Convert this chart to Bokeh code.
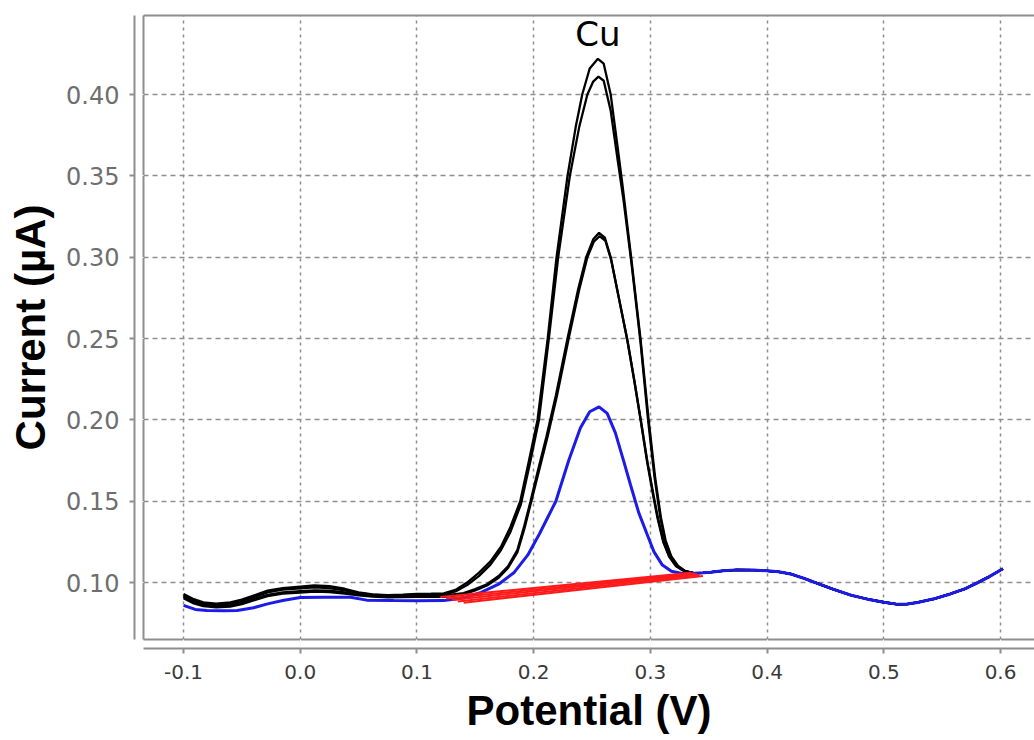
import numpy as np
from bokeh.plotting import figure
from bokeh.models import Range1d, LinearAxis, FixedTicker, PrintfTickFormatter, Label
from bokeh.embed import file_html
from bokeh.resources import INLINE

# ---------------- data ----------------
x_ticks = [-0.1, 0.0, 0.1, 0.2, 0.3, 0.4, 0.5, 0.6]
y_ticks = [0.10, 0.15, 0.20, 0.25, 0.30, 0.35, 0.40]

# common tail after the Cu peak (all scans overlap there)
tail_x = [0.345, 0.352, 0.362, 0.374, 0.388, 0.400, 0.410, 0.420, 0.432, 0.443,
          0.457, 0.472, 0.486, 0.500, 0.512, 0.520, 0.529, 0.543, 0.557, 0.570,
          0.580, 0.590, 0.602]
tail_y = [0.1060, 0.1064, 0.1072, 0.1078, 0.1077, 0.1072, 0.1066, 0.1053, 0.1025, 0.0995,
          0.0958, 0.0922, 0.0898, 0.0879, 0.0866, 0.0868, 0.0878, 0.0900, 0.0930, 0.0963,
          0.0998, 0.1035, 0.1085]

# scan A (highest peak)
a_x = [-0.100, -0.092, -0.083, -0.072, -0.060, -0.050, -0.040, -0.028, -0.015, 0.000,
       0.012, 0.025, 0.038, 0.050, 0.062, 0.075, 0.088, 0.100, 0.112, 0.123,
       0.133, 0.143, 0.153, 0.163, 0.172, 0.180, 0.1885, 0.196, 0.2033, 0.212,
       0.2196, 0.229, 0.236, 0.2416, 0.248, 0.255, 0.260, 0.266, 0.2715, 0.276,
       0.2835, 0.2915, 0.2985, 0.304, 0.309, 0.313, 0.318, 0.324, 0.330, 0.337]
a_y = [0.0930, 0.0900, 0.0878, 0.0870, 0.0878, 0.0895, 0.0920, 0.0950, 0.0966, 0.0975,
       0.0982, 0.0978, 0.0962, 0.0940, 0.0928, 0.0922, 0.0925, 0.0930, 0.0932, 0.0934,
       0.0955, 0.1000, 0.1060, 0.1130, 0.1220, 0.1340, 0.1500, 0.1750, 0.2000, 0.2500,
       0.3000, 0.3500, 0.3800, 0.4000, 0.4160, 0.4220, 0.4190, 0.4000, 0.3700, 0.3450,
       0.3000, 0.2500, 0.2000, 0.1650, 0.1400, 0.1260, 0.1160, 0.1100, 0.1070, 0.1058]

# scan B
b_x = [-0.100, -0.092, -0.083, -0.072, -0.060, -0.050, -0.040, -0.028, -0.015, 0.000,
       0.012, 0.025, 0.038, 0.050, 0.062, 0.075, 0.088, 0.100, 0.112, 0.123,
       0.133, 0.143, 0.153, 0.163, 0.172, 0.180, 0.189, 0.197, 0.2045, 0.213,
       0.221, 0.231, 0.239, 0.246, 0.251, 0.2555, 0.260, 0.266, 0.2715, 0.277,
       0.284, 0.2915, 0.298, 0.3035, 0.3085, 0.3125, 0.3175, 0.3235, 0.330, 0.337]
b_y = [0.0920, 0.0890, 0.0870, 0.0862, 0.0870, 0.0886, 0.0910, 0.0940, 0.0956, 0.0965,
       0.0970, 0.0966, 0.0952, 0.0935, 0.0925, 0.0920, 0.0922, 0.0926, 0.0928, 0.0925,
       0.0945, 0.0985, 0.1040, 0.1110, 0.1200, 0.1310, 0.1480, 0.1740, 0.2000, 0.2500,
       0.3000, 0.3500, 0.3800, 0.4000, 0.4080, 0.4110, 0.4085, 0.3900, 0.3620, 0.3350,
       0.2950, 0.2480, 0.2000, 0.1650, 0.1400, 0.1260, 0.1160, 0.1100, 0.1070, 0.1058]

# scan C
c_x = [-0.100, -0.092, -0.083, -0.072, -0.060, -0.050, -0.040, -0.028, -0.015, 0.000,
       0.012, 0.025, 0.038, 0.050, 0.062, 0.075, 0.088, 0.100, 0.112, 0.123,
       0.140, 0.150, 0.160, 0.170, 0.178, 0.186, 0.192, 0.1973, 0.204, 0.211,
       0.219, 0.229, 0.238, 0.245, 0.251, 0.256, 0.261, 0.266, 0.273, 0.280,
       0.286, 0.2916, 0.297, 0.302, 0.306, 0.311, 0.316, 0.322, 0.329, 0.337]
c_y = [0.0912, 0.0882, 0.0862, 0.0855, 0.0860, 0.0875, 0.0898, 0.0925, 0.0940, 0.0947,
       0.0952, 0.0950, 0.0940, 0.0928, 0.0920, 0.0916, 0.0917, 0.0919, 0.0920, 0.0920,
       0.0935, 0.0960, 0.0990, 0.1040, 0.1100, 0.1200, 0.1350, 0.1500, 0.1700, 0.1900,
       0.2150, 0.2500, 0.2800, 0.3000, 0.3110, 0.3150, 0.3120, 0.3000, 0.2750, 0.2500,
       0.2250, 0.2000, 0.1750, 0.1550, 0.1400, 0.1250, 0.1160, 0.1100, 0.1070, 0.1058]

# scan D
d_x = [-0.100, -0.092, -0.083, -0.072, -0.060, -0.050, -0.040, -0.028, -0.015, 0.000,
       0.012, 0.025, 0.038, 0.050, 0.062, 0.075, 0.088, 0.100, 0.112, 0.123,
       0.140, 0.150, 0.160, 0.170, 0.178, 0.186, 0.192, 0.198, 0.205, 0.212,
       0.220, 0.230, 0.239, 0.246, 0.2515, 0.2565, 0.2615, 0.2665, 0.2735, 0.2805,
       0.2865, 0.292, 0.2975, 0.3025, 0.3065, 0.3115, 0.3165, 0.3225, 0.3295, 0.337]
d_y = [0.0904, 0.0874, 0.0855, 0.0848, 0.0852, 0.0867, 0.0890, 0.0917, 0.0932, 0.0939,
       0.0944, 0.0942, 0.0932, 0.0921, 0.0913, 0.0909, 0.0910, 0.0912, 0.0913, 0.0912,
       0.0928, 0.0952, 0.0982, 0.1030, 0.1090, 0.1185, 0.1330, 0.1500, 0.1700, 0.1900,
       0.2150, 0.2500, 0.2800, 0.3000, 0.3095, 0.3130, 0.3100, 0.2980, 0.2730, 0.2480,
       0.2230, 0.1990, 0.1740, 0.1545, 0.1395, 0.1245, 0.1158, 0.1100, 0.1070, 0.1058]

# blue scan (lowest peak)
e_x = [-0.100, -0.090, -0.080, -0.065, -0.054, -0.040, -0.028, -0.015, 0.000, 0.020,
       0.043, 0.057, 0.080, 0.100, 0.123, 0.140, 0.155, 0.170, 0.183, 0.195,
       0.205, 0.212, 0.219, 0.230, 0.240, 0.248, 0.256, 0.263, 0.270, 0.277,
       0.283, 0.290, 0.297, 0.303, 0.310, 0.318, 0.328, 0.338]
e_y = [0.0860, 0.0835, 0.0828, 0.0826, 0.0828, 0.0845, 0.0869, 0.0890, 0.0908, 0.0910,
       0.0910, 0.0892, 0.0889, 0.0888, 0.0889, 0.0905, 0.0940, 0.0990, 0.1060, 0.1170,
       0.1300, 0.1400, 0.1500, 0.1750, 0.1950, 0.2050, 0.2080, 0.2040, 0.1920, 0.1750,
       0.1600, 0.1430, 0.1300, 0.1190, 0.1110, 0.1070, 0.1055, 0.1058]

# red linear baselines (one per scan)
base_x0 = [0.120, 0.125, 0.130, 0.135, 0.140]
base_y0 = [0.0912, 0.0902, 0.0893, 0.0884, 0.0876]
base_x1 = [0.335, 0.338, 0.340, 0.342, 0.345]
base_y1 = [0.1060, 0.1056, 0.1052, 0.1046, 0.1040]

peak_name = "Cu"

# ---------------- figure ----------------
GRAY = "#8e8e8e"

p = figure(width=1034, height=740,
           x_range=Range1d(-0.1343, 0.6291), y_range=Range1d(0.065, 0.4486),
           output_backend="svg", toolbar_location=None,
           min_border_left=143, min_border_right=0, min_border_top=15, min_border_bottom=101,
           background_fill_color="white", border_fill_color="white",
           outline_line_color=None)

# inner axes: only the frame border lines, leaving a 10px gap before the real axes
p.xaxis[0].ticker = FixedTicker(ticks=x_ticks)
p.yaxis[0].ticker = FixedTicker(ticks=y_ticks)
for ax in (p.xaxis[0], p.yaxis[0]):
    ax.axis_line_color = GRAY
    ax.axis_line_width = 2
    ax.major_tick_out = 9
    ax.major_tick_in = 0
    ax.minor_tick_out = 0
    ax.minor_tick_in = 0
    ax.major_tick_line_color = "white"
    ax.major_tick_line_width = 1
    ax.minor_tick_line_color = None
    ax.major_label_standoff = 0
    ax.major_label_text_font_size = "1px"
    ax.major_label_text_alpha = 0

top_ax = LinearAxis(ticker=FixedTicker(ticks=[]), axis_line_color=GRAY, axis_line_width=2,
                    major_tick_out=0, major_tick_in=0, minor_tick_out=0, minor_tick_in=0,
                    major_label_standoff=0, minor_tick_line_color=None)
p.add_layout(top_ax, "above")

xax = LinearAxis(ticker=FixedTicker(ticks=x_ticks), formatter=PrintfTickFormatter(format="%.1f"),
                 axis_label="Potential (V)")
yax = LinearAxis(ticker=FixedTicker(ticks=y_ticks), formatter=PrintfTickFormatter(format="%.2f"),
                 axis_label="Current (µA)")
for ax in (xax, yax):
    ax.axis_line_color = GRAY
    ax.axis_line_width = 2
    ax.major_tick_line_color = GRAY
    ax.major_tick_line_width = 2
    ax.major_tick_out = 5
    ax.major_tick_in = 0
    ax.minor_tick_out = 0
    ax.minor_tick_in = 0
    ax.minor_tick_line_color = None
    ax.major_label_text_font = "DejaVu Sans"
    ax.axis_label_text_font = "Liberation Sans"
    ax.axis_label_text_font_style = "bold"
    ax.axis_label_text_font_size = "42px"
    ax.axis_label_text_color = "black"
xax.major_label_text_font_size = "20px"
xax.major_label_text_color = "#3a3a3a"
xax.major_label_standoff = 11
xax.axis_label_standoff = 5
yax.major_label_text_font_size = "24px"
yax.major_label_text_color = "#6e6e6e"
yax.major_label_standoff = 10
yax.axis_label_standoff = 9
p.add_layout(xax, "below")
p.add_layout(yax, "left")

p.xgrid.ticker = FixedTicker(ticks=x_ticks)
p.ygrid.ticker = FixedTicker(ticks=y_ticks)
p.xgrid.grid_line_color = GRAY
p.xgrid.grid_line_dash = "3 4"
p.xgrid.grid_line_width = 1.5
p.ygrid.grid_line_color = GRAY
p.ygrid.grid_line_dash = "5 4"
p.ygrid.grid_line_width = 1.5

# ---------------- curves ----------------
for xs, ys in ((a_x, a_y), (b_x, b_y), (c_x, c_y), (d_x, d_y)):
    p.line(xs + tail_x, ys + tail_y, line_color="black", line_width=2.3)
p.line(e_x + tail_x, e_y + tail_y, line_color="#1c1ce6", line_width=3)
p.segment(base_x0, base_y0, base_x1, base_y1, line_color="#ff1a1a", line_width=2)

peak_x = a_x[int(np.argmax(a_y))]
p.add_layout(Label(x=peak_x, y=0.4375, text=peak_name, text_align="center",
                   text_baseline="middle", text_font="DejaVu Sans",
                   text_font_size="34px", text_color="black"))

open("out.html", "w").write(file_html(p, INLINE))
